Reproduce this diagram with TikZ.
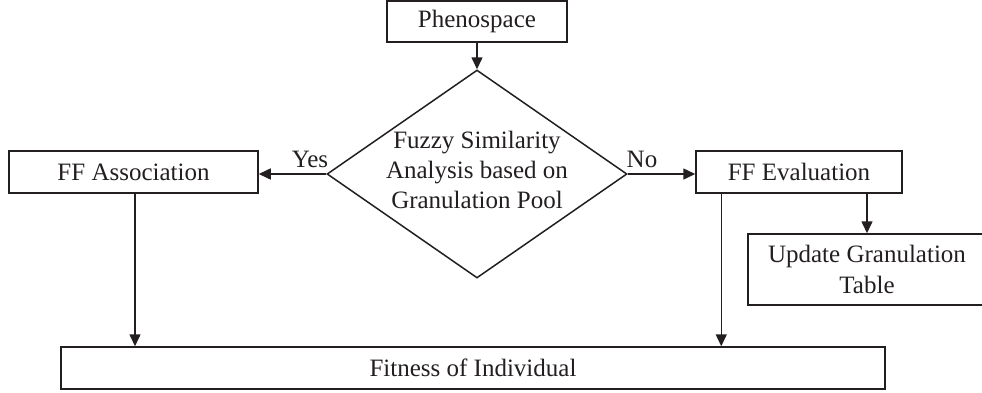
\documentclass[tikz,border=0pt]{standalone}
\usepackage{fontspec}
\setmainfont{Liberation Serif}
\usetikzlibrary{arrows.meta,shapes.geometric}
\definecolor{ink}{HTML}{231F20}
\begin{document}
\begin{tikzpicture}[x=1pt,y=-1pt,
  every node/.style={font=\fontsize{25}{30}\selectfont, text=ink},
  box/.style={draw=ink, line width=1.5pt, rectangle, inner sep=0pt, align=center},
  arr/.style={draw=ink, line width=1.5pt, -{Triangle[length=12pt,width=11pt]}},
  lbl/.style={anchor=base, inner sep=0pt}
]
\clip (0,0) rectangle (982,392);
\node[box, minimum width=180pt, minimum height=41pt] (pheno) at (477,21.5) {Phenospace};
\node[diamond, draw=ink, line width=1.5pt, inner sep=0pt, minimum width=300pt, minimum height=208pt,
  label={[align=center, yshift=4pt, font=\fontsize{25}{30}\selectfont, text=ink]center:Fuzzy Similarity\\Analysis based on\\Granulation Pool}] (dec) at (477,174) {};
\node[box, minimum width=249pt, minimum height=42pt] (ffa) at (133.5,172) {FF Association};
\node[box, minimum width=206pt, minimum height=42pt] (ffe) at (799,172) {FF Evaluation};
\node[box, minimum width=238pt, minimum height=71pt, font=\fontsize{25}{31}\selectfont] (upd) at (867,269.5) {Update Granulation\\Table};
\node[box, minimum width=824pt, minimum height=42pt] (fit) at (473,368) {Fitness of Individual};
\node[lbl] (yes) at (310,167) {Yes};
\node[lbl] (no) at (642,167) {No};
\draw[arr] (pheno.south) -- (dec.north);
\draw[arr] (dec.west) -- (dec.west -| ffa.east);
\draw[arr] (dec.east) -- (dec.east -| ffe.west);
\draw[arr] ([xshift=1.5pt]ffa.south) -- ([xshift=1.5pt]ffa.south |- fit.north);
\draw[arr] ([xshift=26pt]ffe.south west) -- ([xshift=26pt]ffe.south west |- fit.north);
\draw[arr] (upd.north |- ffe.south) -- (upd.north);
\end{tikzpicture}
\end{document}
